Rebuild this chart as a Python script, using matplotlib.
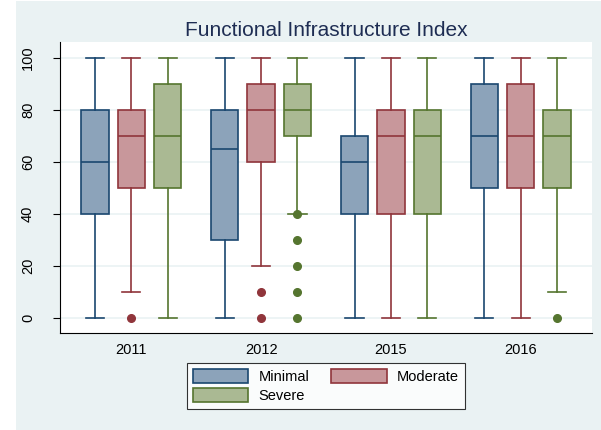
import matplotlib
matplotlib.use("Agg")
import matplotlib.pyplot as plt
from matplotlib.patches import Rectangle, Patch

plt.rcParams['font.family'] = ['Liberation Sans', 'DejaVu Sans']

years = ["2011", "2012", "2015", "2016"]
groups = ["Minimal", "Moderate", "Severe"]

# Box statistics per year, one entry per group: (whislo, q1, median, q3, whishi)
box_2011 = [(0, 40, 60, 80, 100), (10, 50, 70, 80, 100), (0, 50, 70, 90, 100)]
box_2012 = [(0, 30, 65, 80, 100), (20, 60, 80, 90, 100), (40, 70, 80, 90, 100)]
box_2015 = [(0, 40, 60, 70, 100), (0, 40, 70, 80, 100), (0, 40, 70, 80, 100)]
box_2016 = [(0, 50, 70, 90, 100), (0, 50, 70, 90, 100), (10, 50, 70, 80, 100)]

# Outside values per year and group
out_2011 = [[], [0], []]
out_2012 = [[], [0, 10], [0, 10, 20, 30, 40]]
out_2015 = [[], [], []]
out_2016 = [[], [], [0]]

box_stats = [box_2011, box_2012, box_2015, box_2016]
outliers = [out_2011, out_2012, out_2015, out_2016]

edge_colors = ["#1A476F", "#90353B", "#55752F"]
fill_colors = ["#8CA3BA", "#C8979B", "#AAB993"]

bg = "#EAF2F3"
fig = plt.figure(figsize=(6.01, 4.30), dpi=100, facecolor="white")
fig.patches.append(Rectangle((16 / 601, 0), 1 - 16 / 601, 1 - 1 / 430,
                             transform=fig.transFigure, facecolor=bg,
                             edgecolor="none", zorder=-10))

ax = fig.add_axes([60 / 601, 97 / 430, 532 / 601, 291 / 430])
ax.set_facecolor("white")

offsets = [-0.28, 0.0, 0.28]
for gi, (stats_year, outs_year) in enumerate(zip(box_stats, outliers)):
    for k in range(3):
        lo, q1, med, q3, hi = stats_year[k]
        stat = dict(whislo=lo, q1=q1, med=med, q3=q3, whishi=hi,
                    fliers=outs_year[k])
        ec = edge_colors[k]
        ax.bxp([stat], positions=[gi + offsets[k]], widths=0.21,
               patch_artist=True, showfliers=True,
               boxprops=dict(facecolor=fill_colors[k], edgecolor=ec, linewidth=1.2),
               medianprops=dict(color=ec, linewidth=1.2),
               whiskerprops=dict(color=ec, linewidth=1.2),
               capprops=dict(color=ec, linewidth=1.2),
               capwidths=0.14,
               flierprops=dict(marker="o", markerfacecolor=ec, markeredgecolor=ec,
                               markersize=5.5, linestyle="none"),
               manage_ticks=False)

ax.set_xlim(-0.55, 3.55)
ax.set_ylim(-5.8, 106.2)
ax.set_yticks([0, 20, 40, 60, 80, 100])
ax.set_yticklabels(["0", "20", "40", "60", "80", "100"], rotation=90, va="center",
                   fontsize=10.5)
ax.set_xticks(range(len(years)))
ax.set_xticklabels(years, fontsize=10.5)
ax.tick_params(axis="x", length=0, pad=7)
ax.tick_params(axis="y", length=5, width=0.8, pad=13)
ax.yaxis.grid(True, color=bg, linewidth=1.2)
ax.set_axisbelow(True)
for side in ["top", "right"]:
    ax.spines[side].set_visible(False)
ax.spines["left"].set_color("black")
ax.spines["bottom"].set_color("black")

fig.text(326 / 601, 1 - 31 / 430, "Functional Infrastructure Index",
         ha="center", va="center", fontsize=15, color="#1E2D53")

# Column-major legend fill: Minimal, Severe in the first column, Moderate in the second
order = [0, 2, 1]
handles = [Patch(facecolor=fill_colors[k], edgecolor=edge_colors[k], linewidth=1.2,
                 label=groups[k]) for k in order]
leg = fig.legend(handles=handles, ncol=2, loc="center",
                 bbox_to_anchor=(326 / 601, 1 - 386 / 430), fontsize=10.5,
                 frameon=True, fancybox=False, handlelength=3.8, handleheight=1.1,
                 columnspacing=1.5, handletextpad=0.7, borderpad=0.4,
                 labelspacing=0.3)
leg.get_frame().set_edgecolor("black")
leg.get_frame().set_linewidth(0.8)

fig.savefig("out.png", dpi=100, facecolor=fig.get_facecolor())
